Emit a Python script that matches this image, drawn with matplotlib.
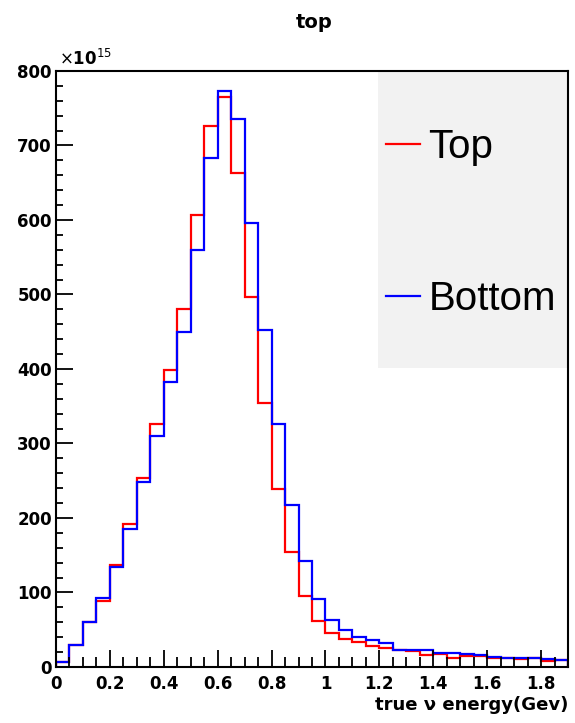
import numpy as np
import matplotlib
matplotlib.use("Agg")
import matplotlib.pyplot as plt
from matplotlib.patches import Rectangle
from matplotlib.ticker import MultipleLocator

plt.rcParams['font.family'] = ['DejaVu Sans']

# true neutrino energy spectrum, 0.05 GeV bins from 0 to 1.9 GeV (units of 1e15)
bin_lo, bin_hi, n_bins = 0.0, 1.9, 38
top = [6, 30, 60, 89, 137, 192, 254, 326, 399, 481,
       607, 726, 765, 663, 496, 354, 239, 154, 95, 61.6,
       46, 37, 33, 28.5, 25, 22.5, 21, 16.5, 17, 12.5,
       14.5, 15, 12.7, 12.5, 11, 12, 7.8, 10]
bottom = [6, 30, 60, 92, 134, 185, 248, 310, 382, 449,
          560, 683, 773, 735, 596, 452, 326, 218, 142, 91.5,
          63.5, 50, 40, 35.7, 32, 23, 23, 23, 18.6, 18.6,
          17.5, 15.5, 14, 12.7, 12.5, 12.5, 10.5, 10]

edges = np.linspace(bin_lo, bin_hi, n_bins + 1)

fig = plt.figure(figsize=(5.75, 7.23), dpi=100)
ax = fig.add_axes([0.0974, 0.0775, 0.8904, 0.8243])

ax.stairs(top, edges, color='#ff0000', lw=1.6, label='Top')
ax.stairs(bottom, edges, color='#0000ff', lw=1.6, label='Bottom')

ax.set_xlim(bin_lo, bin_hi)
ax.set_ylim(0, 800)

# ROOT-like inward ticks
ax.xaxis.set_major_locator(MultipleLocator(0.2))
ax.xaxis.set_minor_locator(MultipleLocator(0.05))
ax.yaxis.set_major_locator(MultipleLocator(100))
ax.yaxis.set_minor_locator(MultipleLocator(20))
ax.tick_params(which='both', direction='in', top=False, right=False, width=1.3)
ax.tick_params(which='major', length=12, labelsize=12)
ax.tick_params(axis='x', which='major', pad=6)
ax.tick_params(axis='y', which='major', pad=3)
ax.tick_params(axis='x', which='minor', length=7.5)
ax.tick_params(axis='y', which='minor', length=5)
ax.xaxis.set_major_formatter(plt.FuncFormatter(lambda v, p: f"{v:g}"))
for lab in ax.get_xticklabels() + ax.get_yticklabels():
    lab.set_fontweight('bold')
for sp in ax.spines.values():
    sp.set_linewidth(1.5)

ax.text(0.005, 1.003, r'$\times$10$^{15}$', transform=ax.transAxes,
        fontsize=12, fontweight='bold', va='bottom', ha='left')
fig.text(0.546, 1 - 23 / 723, 'top', fontsize=14, fontweight='bold',
         ha='center', va='center')
ax.set_xlabel('true \u03bd energy(Gev)', fontsize=13, fontweight='bold',
              loc='right', labelpad=2)

# grey legend panel
ax.add_patch(Rectangle((0.629, 0.502), 0.371, 0.498, transform=ax.transAxes,
                       facecolor='#f2f2f2', edgecolor='none', zorder=0))
ax.legend(loc='upper left', bbox_to_anchor=(0.645, 0.905), frameon=False,
          prop={'family': 'Liberation Sans', 'size': 29},
          handlelength=0.85, handletextpad=0.2, labelspacing=2.85,
          borderpad=0, borderaxespad=0)

fig.savefig('out.png', dpi=100)
